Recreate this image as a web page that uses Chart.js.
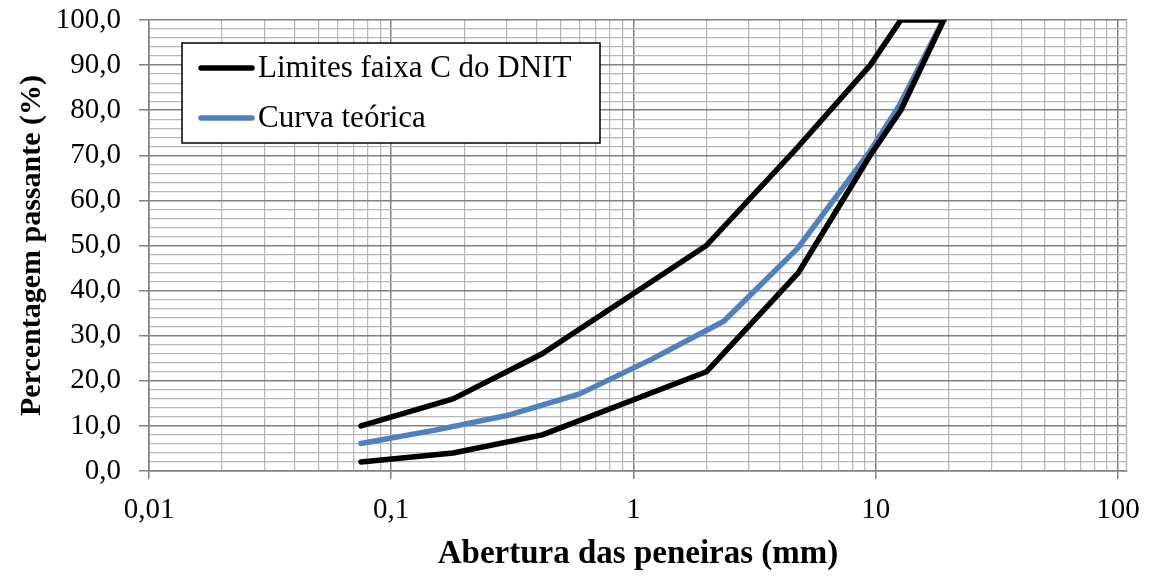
<!DOCTYPE html>
<html>
<head>
<meta charset="utf-8">
<script src="https://cdn.jsdelivr.net/npm/chart.js@4.4.0/dist/chart.umd.min.js"></script>
<style>
  html, body { margin: 0; padding: 0; background: #fff; }
  #wrap { width: 1149px; height: 577px; }
</style>
</head>
<body>
<div id="wrap"><canvas id="chart" width="1149" height="577"></canvas></div>
<script>
// peneiras da faixa C (mm) e limites
const sieves = [19.1, 12.7, 9.5, 4.8, 2.0, 0.42, 0.18, 0.075];
const upperLimit = [100, 100, 90, 72, 50, 26, 16, 10];
const lowerLimit = [100, 80, 70, 44, 22, 8, 4, 2];

// curva teórica
const curveSieves = [19, 12.5, 9.5, 4.75, 2.36, 1.18, 0.6, 0.3, 0.15, 0.075];
const curveValues = [100, 81, 71, 49.3, 33.2, 24.7, 17.1, 12.3, 9.0, 6.1];

const decades = [0.01, 0.1, 1, 10, 100];
const legendLabels = ["Limites faixa C do DNIT", "Curva teórica"];

const FONT = "'Liberation Serif', 'Times New Roman', serif";
const MAJOR = "#808080";
const MINOR = "#b8b8b8";

const toPoints = (xs, ys) => xs.map((x, i) => ({ x, y: ys[i] }));
const isDecade = (v) => Math.abs(Math.log10(v) - Math.round(Math.log10(v))) < 1e-9;

const lineStyle = {
  showLine: true,
  pointRadius: 0,
  borderWidth: 5.5,
  borderCapStyle: "round",
  borderJoinStyle: "round",
  fill: false,
  tension: 0,
};

const insideLegend = {
  id: "insideLegend",
  afterDatasetsDraw(chart) {
    const { ctx, chartArea } = chart;
    const x0 = chartArea.left + 33;
    const y0 = chartArea.top + 23;
    const w = 418;
    const h = 100;
    ctx.save();
    ctx.fillStyle = "#fff";
    ctx.fillRect(x0, y0, w, h);
    ctx.strokeStyle = "#000";
    ctx.lineWidth = 1.5;
    ctx.strokeRect(x0, y0, w, h);
    const items = chart.data.datasets.filter((d) => d.inLegend);
    items.forEach((d, i) => {
      const y = y0 + 25 + i * 50;
      ctx.strokeStyle = d.borderColor;
      ctx.lineWidth = 5.5;
      ctx.lineCap = "round";
      ctx.beginPath();
      ctx.moveTo(x0 + 19, y);
      ctx.lineTo(x0 + 70, y);
      ctx.stroke();
      ctx.fillStyle = "#000";
      ctx.font = "31px " + FONT;
      ctx.textBaseline = "middle";
      ctx.fillText(d.label, x0 + 76, y + 1);
    });
    ctx.restore();
  },
};

const frame = {
  id: "frame",
  beforeDatasetsDraw(chart) {
    const { ctx, chartArea } = chart;
    ctx.save();
    ctx.strokeStyle = MINOR;
    ctx.lineWidth = 1.5;
    ctx.beginPath();
    ctx.moveTo(chartArea.right - 0.5, chartArea.top);
    ctx.lineTo(chartArea.right - 0.5, chartArea.bottom);
    ctx.stroke();
    ctx.restore();
  },
};

new Chart(document.getElementById("chart"), {
  type: "scatter",
  data: {
    datasets: [
      {
        ...lineStyle,
        label: legendLabels[0],
        inLegend: true,
        data: toPoints(sieves, upperLimit),
        borderColor: "#000000",
        backgroundColor: "#000000",
      },
      {
        ...lineStyle,
        label: "",
        inLegend: false,
        data: toPoints(sieves, lowerLimit),
        borderColor: "#000000",
        backgroundColor: "#000000",
      },
      {
        ...lineStyle,
        label: legendLabels[1],
        inLegend: true,
        data: toPoints(curveSieves, curveValues),
        borderColor: "#4F81BD",
        backgroundColor: "#4F81BD",
      },
    ],
  },
  options: {
    responsive: false,
    animation: false,
    layout: { padding: { top: 20, right: 22, left: 0, bottom: 0 } },
    plugins: {
      legend: { display: false },
      tooltip: { enabled: false },
    },
    scales: {
      x: {
        type: "logarithmic",
        min: 0.01,
        max: 109,
        afterBuildTicks: (scale) => {
          const ticks = [];
          decades.slice(0, -1).forEach((d) => {
            for (let k = 1; k < 10; k++) ticks.push({ value: +(d * k).toPrecision(6) });
          });
          ticks.push({ value: 100 });
          scale.ticks = ticks;
        },
        afterFit: (scale) => {
          scale.height = 106;
          scale.paddingLeft = 0;
          scale.paddingRight = 0;
        },
        ticks: {
          autoSkip: false,
          maxRotation: 0,
          padding: 14,
          color: "#000",
          font: { family: FONT, size: 29 },
          callback: (v) => (decades.includes(v) ? String(v).replace(".", ",") : ""),
        },
        grid: {
          color: (c) => (c.tick && isDecade(c.tick.value) ? MAJOR : MINOR),
          tickColor: (c) => (c.tick && isDecade(c.tick.value) ? MAJOR : "rgba(0,0,0,0)"),
          lineWidth: (c) => (c.tick && isDecade(c.tick.value) ? 1.5 : 1.25),
          tickLength: 8,
        },
        border: { color: MAJOR, width: 1.5 },
        title: {
          display: true,
          text: "Abertura das peneiras (mm)",
          color: "#000",
          font: { family: FONT, size: 33, weight: "bold" },
          padding: { top: 0, bottom: 3 },
        },
      },
      y: {
        min: 0,
        max: 100,
        afterFit: (scale) => {
          scale.width = 149;
          scale.paddingTop = 0;
          scale.paddingBottom = 0;
        },
        ticks: {
          stepSize: 2,
          autoSkip: false,
          padding: 18,
          color: "#000",
          font: { family: FONT, size: 29 },
          callback: (v) => (v % 10 === 0 ? v.toFixed(1).replace(".", ",") : ""),
        },
        grid: {
          color: (c) => (c.tick && c.tick.value % 10 === 0 ? MAJOR : MINOR),
          tickColor: (c) => (c.tick && c.tick.value % 10 === 0 ? MAJOR : "rgba(0,0,0,0)"),
          lineWidth: (c) => (c.tick && c.tick.value % 10 === 0 ? 1.5 : 1.25),
          tickLength: 10,
        },
        border: { color: MAJOR, width: 1.5 },
        title: {
          display: true,
          text: "Percentagem passante (%)",
          color: "#000",
          font: { family: FONT, size: 30, weight: "bold" },
          padding: { top: 14, bottom: 0 },
        },
      },
    },
  },
  plugins: [frame, insideLegend],
});
</script>
</body>
</html>
